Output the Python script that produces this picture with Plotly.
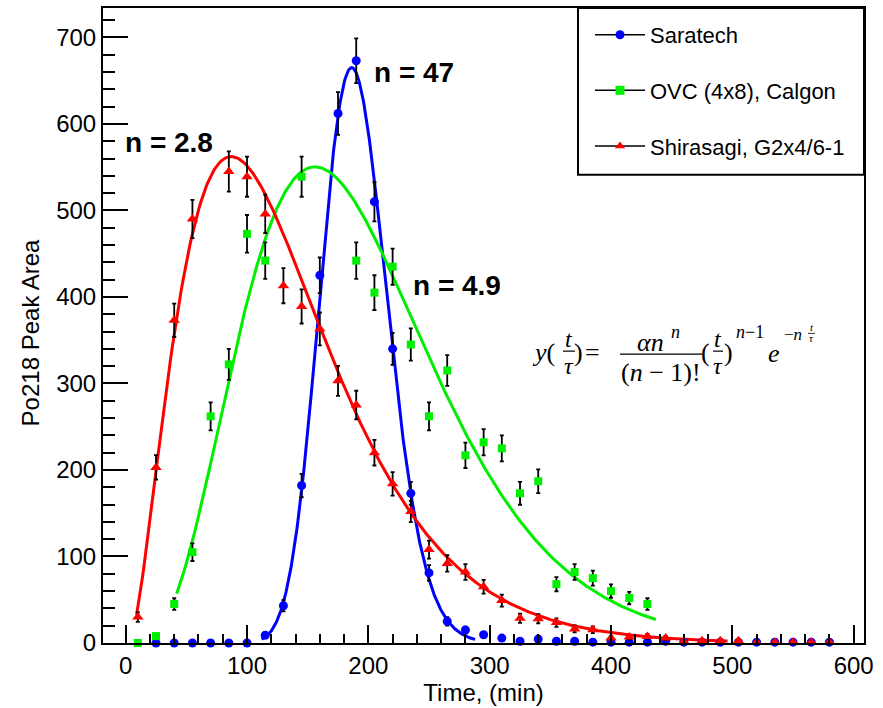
import math
import numpy as np
import plotly.graph_objects as go

# ---- measured Po218 peak areas (time in minutes) ----
t_saratech = [25, 40, 55, 70, 85, 100, 115, 130, 145, 160, 175, 190, 205, 220, 235, 250,
              265, 280, 295, 310, 325, 340, 355, 370, 385, 400, 415, 430, 445, 460, 475,
              490, 505, 520, 535, 550, 565, 580]
y_saratech = [0, 0, 0, 0, 0, 0, 9, 43, 182, 425, 612, 673, 510, 340, 173, 81,
              25, 15, 9.5, 5.7, 2, 4.5, 2, 2, 1, 1, 1, 1, 2, 1, 1,
              1, 1, 1, 1, 1, 1, 1]
e_saratech = [0, 0, 0, 0, 0, 0, 3, 6.5, 13.5, 20.6, 24.7, 25.9, 22.6, 18.4, 13.2, 9,
              5, 3.9, 3.1, 2.4, 1.4, 2.1, 1.4, 1.4, 1, 1, 1, 1, 1.4, 1, 1,
              1, 1, 1, 1, 1, 1, 1]

t_ovc = [10, 25, 40, 55, 70, 85, 100, 115, 145, 190, 205, 220, 235, 250, 265, 280,
         295, 310, 325, 340, 355, 370, 385, 400, 415, 430]
y_ovc = [0, 8, 45, 105, 262, 322, 473, 442, 539, 442, 405, 435, 345, 262, 315, 217,
         232, 225, 173, 187, 68, 82, 75, 60, 52, 45]
e_ovc = [0, 2.8, 6.7, 10.2, 16.2, 17.9, 21.7, 21, 23.2, 21, 20.1, 20.9, 18.6, 16.2, 17.7, 14.7,
         15.2, 15, 13.2, 13.7, 8.2, 9.1, 8.7, 7.7, 7.2, 6.7]

t_shirasagi = [10, 25, 40, 55, 85, 100, 115, 130, 145, 160, 175, 190, 205, 220, 235, 250,
               265, 280, 295, 310, 325, 340, 355, 370, 385, 400, 415, 430, 445, 460, 475,
               490, 505, 520, 535, 550, 565, 580]
y_shirasagi = [30, 203, 373, 490, 545, 539, 496, 413, 389, 363, 303, 275, 220, 184, 152, 108,
               92, 82, 65, 49, 28.5, 28, 23.6, 16.3, 15.2, 5.7, 6.8, 7.6, 5.7, 2, 2.5,
               2.5, 2.5, 1, 1, 1, 1, 1]
e_shirasagi = [5.5, 14.2, 19.3, 22.1, 23.3, 23.2, 22.3, 20.3, 19.7, 19, 17.4, 16.6, 14.8, 13.6, 12.3, 10.4,
               9.6, 9.1, 8, 7, 5.3, 5.3, 4.9, 4, 3.9, 2.4, 2.6, 2.8, 2.4, 1.4, 1.6,
               1.6, 1.6, 1, 1, 1, 1, 1]

# ---- fitted model parameters: y(t/tau) = a n^n/(n-1)! (t/tau)^(n-1) exp(-n t/tau) ----
# t0 is the start time of the fitted pulse
fit_saratech = dict(n=47.0, tau=190.3, alpha=241.0, t0=0.0, t_min=112, t_max=288)
fit_ovc = dict(n=4.9, tau=196.0, alpha=568.0, t0=0.0, t_min=42, t_max=437)
fit_shirasagi = dict(n=2.8, tau=132.2, alpha=707.0, t0=2.0, t_min=9, t_max=496)

series_names = ["Saratech", "OVC (4x8), Calgon", "Shirasagi, G2x4/6-1"]
series_colors = ["#0000ff", "#00ee00", "#ff0000"]
series_symbols = ["circle", "square", "triangle-up"]
peak_labels = ["n = 47", "n = 4.9", "n = 2.8"]


def model(t, n, tau, alpha, t0):
    u = (t - t0) / tau
    return np.exp(math.log(alpha) + n * math.log(n) - math.lgamma(n)
                  + (n - 1) * np.log(u) - n * u)


FONT = "Liberation Sans"
SERIF = "Liberation Serif"
W, H = 883, 708
ML, MR, MT, MB = 103, 19, 6, 58
PW, PH = W - ML - MR, H - MT - MB


def px(xp):
    return (xp - ML) / PW


def py(yp):
    return (H - MB - yp) / PH


fig = go.Figure()

# fitted curves
for fit, col in zip([fit_saratech, fit_ovc, fit_shirasagi], series_colors):
    tt = np.linspace(fit["t_min"], fit["t_max"], 400)
    fig.add_trace(go.Scatter(x=tt, y=model(tt, fit["n"], fit["tau"], fit["alpha"], fit["t0"]),
                             mode="lines", line=dict(color=col, width=3),
                             showlegend=False, hoverinfo="skip"))

# measured points with error bars
data = [(t_saratech, y_saratech, e_saratech, 9),
        (t_ovc, y_ovc, e_ovc, 8),
        (t_shirasagi, y_shirasagi, e_shirasagi, 10)]
for (tx, ty, te, ms), col, sym in zip(data, series_colors, series_symbols):
    fig.add_trace(go.Scatter(x=tx, y=ty, mode="markers",
                             marker=dict(color=col, symbol=sym, size=ms, line=dict(width=0)),
                             error_y=dict(type="data", array=te, visible=True,
                                          color="black", thickness=1.8, width=2),
                             cliponaxis=False, showlegend=False))

# legend entries: black line with coloured marker
for i, (name, col, sym) in enumerate(zip(series_names, series_colors, series_symbols)):
    fig.add_trace(go.Scatter(x=[None], y=[None], mode="lines+markers", name=name,
                             legendgroup=f"g{i}",
                             line=dict(color="black", width=1.5),
                             marker=dict(color=col, symbol=sym, size=9)))

annotations = []
shapes = []

# peak labels
for text, (xp, yp) in zip(peak_labels, [(414, 71), (457, 287), (169, 142)]):
    annotations.append(dict(text=f"<b>{text}</b>", x=px(xp), y=py(yp), xref="paper", yref="paper",
                            showarrow=False, font=dict(family=FONT, size=28, color="black"),
                            xanchor="center", yanchor="middle"))

# y-axis title
annotations.append(dict(text="Po218 Peak Area", x=px(30), y=py(336), xref="paper", yref="paper",
                        showarrow=False, textangle=-90,
                        font=dict(family=FONT, size=24, color="black"),
                        xanchor="center", yanchor="middle"))


def eq(text, xp, yp, size, anchor="center"):
    annotations.append(dict(text=text, x=px(xp), y=py(yp), xref="paper", yref="paper",
                            showarrow=False, font=dict(family=SERIF, size=size, color="black"),
                            xanchor=anchor, yanchor="middle"))


def bar(x0, x1, yp, w=1.2):
    shapes.append(dict(type="line", xref="paper", yref="paper", x0=px(x0), x1=px(x1),
                       y0=py(yp), y1=py(yp), line=dict(color="black", width=w)))


# model equation
eq("<i>y</i>(", 543, 355, 26)
eq("<i>t</i>", 568.5, 342, 24)
bar(563, 575, 354)
eq("<i>τ</i>", 568.5, 369, 24)
eq(")", 578.5, 355, 26)
eq("=", 592, 355, 26)
eq("<i>αn</i>", 650, 345, 26)
eq("<i>n</i>", 675, 335, 18)
bar(620, 702, 357)
eq("(<i>n</i> − 1)!", 661, 376, 26)
eq("(", 705, 355, 26)
eq("<i>t</i>", 718, 342, 24)
bar(713, 723, 354)
eq("<i>τ</i>", 718, 369, 24)
eq(")", 728.5, 355, 26)
eq("<i>n</i>−1", 750, 335, 18)
eq("<i>e</i>", 774, 356, 26)
eq("−<i>n</i>", 793, 337, 17)
eq("<i>t</i>", 811.5, 330, 11)
bar(808, 815, 336, 0.8)
eq("<i>τ</i>", 811.5, 341, 11)

# legend frame
shapes.append(dict(type="rect", xref="paper", yref="paper", x0=px(578), x1=px(864),
                   y0=py(175), y1=py(6), line=dict(color="black", width=2),
                   fillcolor="white", layer="below"))

axis_common = dict(showline=True, linecolor="black", linewidth=2, mirror=True,
                   ticks="inside", tickcolor="black", tickwidth=1.5,
                   showgrid=False, zeroline=False,
                   tickfont=dict(family=FONT, size=24, color="black"))

fig.update_layout(
    width=W, height=H,
    margin=dict(l=ML, r=MR, t=MT, b=MB),
    paper_bgcolor="white", plot_bgcolor="white",
    font=dict(family=FONT, color="black"),
    xaxis=dict(range=[-18.7, 608.5], tickmode="linear", tick0=0, dtick=100, ticklen=18,
               minor=dict(ticks="inside", dtick=20, tick0=0, ticklen=9, tickcolor="black", tickwidth=1.5),
               title=dict(text="Time, (min)", font=dict(family=FONT, size=24), standoff=6),
               **axis_common),
    yaxis=dict(range=[0, 734], tickmode="linear", tick0=0, dtick=100, ticklen=25,
               minor=dict(ticks="inside", dtick=20, tick0=0, ticklen=12, tickcolor="black", tickwidth=1.5),
               **axis_common),
    legend=dict(x=px(590), y=py(12), xanchor="left", yanchor="top",
                bgcolor="rgba(0,0,0,0)", borderwidth=0,
                font=dict(family=FONT, size=22, color="black"),
                traceorder="grouped", tracegroupgap=24, itemwidth=50),
    annotations=annotations,
    shapes=shapes,
    showlegend=True,
)

fig.write_html("out.html")
